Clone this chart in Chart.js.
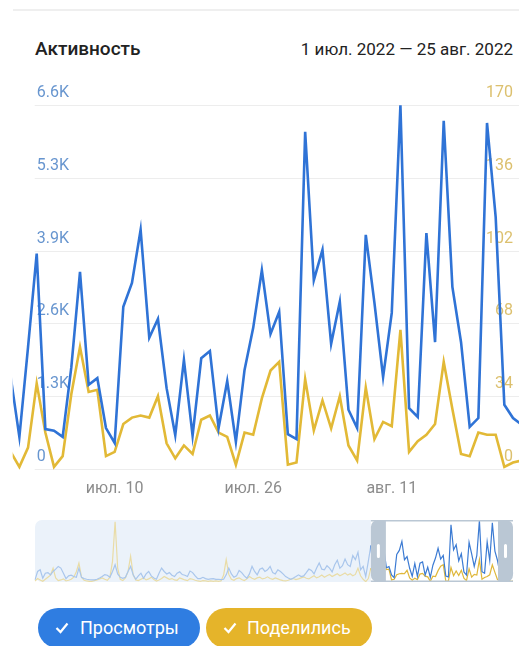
<!DOCTYPE html>
<html>
<head>
<meta charset="utf-8">
<script src="https://cdn.jsdelivr.net/npm/chart.js@4"></script>
<style>
  html, body { margin: 0; padding: 0; background: #fff; width: 519px; height: 646px; overflow: hidden; font-family: Roboto, sans-serif; }
  .sep { position: absolute; left: 13px; top: 9px; width: 506px; height: 2px; background: #efefef; }
  .title { position: absolute; left: 35px; top: 39px; font-size: 19px; line-height: 20px; font-weight: 500; color: #222; }
  .range { position: absolute; right: 6px; top: 39px; font-size: 17px; line-height: 20px; color: #222; }
  #main { position: absolute; left: 0; top: 0; }
  #nav { position: absolute; left: 0; top: 505px; }
  .pill { position: absolute; top: 608px; height: 40px; border-radius: 20px; color: #fff; font-size: 18px; line-height: 40px; box-sizing: border-box; white-space: nowrap; }
  .pill svg { position: absolute; top: 14px; }
  .pill span { position: absolute; top: 0; }
</style>
</head>
<body>
<div class="sep"></div>
<div class="title">Активность</div>
<div class="range">1 июл. 2022 — 25 авг. 2022</div>
<canvas id="main" width="519" height="520"></canvas>
<canvas id="nav" width="519" height="95"></canvas>
<div class="pill" style="left:38px;width:162px;background:#2f7de1">
  <svg width="14" height="12" style="left:17px"><polyline points="1.5,6 5.5,10 12.5,1.5" fill="none" stroke="#fff" stroke-width="2.2"/></svg>
  <span style="left:42px">Просмотры</span>
</div>
<div class="pill" style="left:206px;width:166px;background:#e5b42a">
  <svg width="14" height="12" style="left:17px"><polyline points="1.5,6 5.5,10 12.5,1.5" fill="none" stroke="#fff" stroke-width="2.2"/></svg>
  <span style="left:41px">Поделились</span>
</div>
<script>
// day labels of the main window (a few days of margin on each side)
const days = [];
for (let d = 28; d <= 30; d++) days.push('июн. ' + d);
for (let d = 1; d <= 31; d++) days.push('июл. ' + d);
for (let d = 1; d <= 26; d++) days.push('авг. ' + d);
const rangeStart = 'июл. 1';
const rangeEnd = 'авг. 25';
const xTicks = ['июл. 10', 'июл. 26', 'авг. 11'];
const viewTicks = ['0', '1.3K', '2.6K', '3.9K', '5.3K', '6.6K'];
const shareTicks = ['0', '34', '68', '102', '136', '170'];

// Просмотры, per day (июн. 28 .. авг. 26)
const views = [
  1660, 580, 2200, 3890, 720, 690, 580, 1840, 3560, 1520,
  1640, 740, 470, 2930, 3360, 4320, 2370, 2710, 1460, 610,
  1970, 600, 2000, 2130, 740, 1590, 490, 1790, 2550, 3590,
  2440, 2840, 630, 540, 6090, 3410, 3960, 2260, 3020, 1070,
  740, 4230, 3000, 1660, 2820, 6570, 1100, 940, 4260, 2290,
  6290, 3290, 2290, 760, 920, 6250, 4550, 1160, 920, 800
];
// Поделились, per day
const shares = [
  8, 1, 10, 40, 17, 1, 6, 35, 57, 36,
  37, 6, 8, 21, 24, 25, 24, 34, 12, 5,
  11, 7, 23, 25, 17, 15, 2, 17, 16, 33,
  46, 50, 2, 3, 42, 18, 32, 19, 34, 11,
  4, 38, 14, 22, 20, 65, 8, 13, 16, 21,
  50, 28, 7, 6, 17, 16, 16, 1, 3, 4
];

// earlier days, only seen in the overview strip
const earlierViews = [
  220, 1120, 1300, 400, 940, 1000, 760, 1120, 1370, 1660,
  1480, 940, 360, 650, 720, 580, 500, 1480, 500, 360,
  290, 250, 220, 220, 290, 430, 580, 790, 720, 500,
  1120, 1840, 860, 500, 400, 500, 1120, 1660, 760, 290,
  650, 940, 400, 860, 1120, 650, 430, 290, 940, 1480,
  1120, 860, 1000, 720, 580, 940, 1080, 790, 720, 580,
  1160, 1000, 650, 360, 360, 500, 360, 290, 330, 360,
  290, 290, 250, 290, 760, 1480, 860, 500, 650, 1230,
  1000, 650, 400, 860, 1660, 1120, 760, 1370, 1480, 1120,
  1300, 1660, 1000, 860, 1300, 1120, 860, 580, 430, 290,
  430, 580, 760, 580, 650, 1000, 1370, 1230, 860, 1480,
  2020, 1370, 1300, 1730, 1480, 1080, 1840, 2310, 1480, 1730,
  2450, 1840, 1660, 2810, 2380, 3170, 1300
];
const earlierShares = [
  3, 10, 6, 2, 8, 14, 20, 40, 12, 4,
  6, 9, 3, 5, 8, 14, 30, 55, 14, 5,
  3, 2, 2, 4, 6, 9, 12, 8, 5, 14,
  60, 175, 40, 8, 4, 12, 30, 75, 20, 6,
  4, 8, 12, 6, 9, 14, 7, 3, 6, 10,
  16, 12, 8, 10, 6, 5, 12, 9, 6, 4,
  10, 8, 5, 3, 2, 4, 3, 2, 3, 2,
  3, 2, 3, 20, 65, 22, 8, 5, 10, 12,
  7, 4, 9, 16, 11, 8, 12, 14, 9, 11,
  15, 10, 8, 12, 9, 6, 4, 3, 5, 8,
  10, 7, 9, 12, 15, 11, 9, 14, 18, 12,
  15, 20, 14, 18, 22, 16, 20, 24, 18, 22,
  26, 20, 24, 18, 22, 40, 18
];

const BLUE = '#2f73d6';
const YELLOW = '#e2b936';
const font = { family: 'Roboto', size: 16 };

const gridPlugin = {
  id: 'grid',
  beforeDatasetsDraw(chart) {
    const { ctx, scales: { y } } = chart;
    ctx.save();
    ctx.strokeStyle = '#ededed';
    ctx.lineWidth = 1;
    y.ticks.forEach(t => {
      const py = Math.round(y.getPixelForValue(t.value)) + 0.5;
      ctx.beginPath();
      ctx.moveTo(chart.chartArea.left - 2, py);
      ctx.lineTo(chart.width, py);
      ctx.stroke();
    });
    ctx.restore();
  }
};

new Chart(document.getElementById('main'), {
  type: 'line',
  data: {
    labels: days,
    datasets: [
      { label: 'Просмотры', data: views, yAxisID: 'y', borderColor: BLUE, borderWidth: 2.6, pointRadius: 0, tension: 0,
        clip: { left: 24, right: 6, top: 10, bottom: 10 } },
      { label: 'Поделились', data: shares, yAxisID: 'y1', borderColor: YELLOW, borderWidth: 2.6, pointRadius: 0, tension: 0,
        clip: { left: 24, right: 6, top: 10, bottom: 10 } }
    ]
  },
  options: {
    responsive: false,
    animation: false,
    events: [],
    layout: { padding: { left: 36.7, right: 6, top: 105, bottom: 7 } },
    plugins: { legend: { display: false }, tooltip: { enabled: false } },
    scales: {
      x: {
        type: 'category',
        grid: { display: false, drawTicks: false },
        border: { display: false },
        afterDataLimits: s => { s.min = days.indexOf(rangeStart); s.max = days.indexOf(rangeEnd); },
        afterFit: s => { s.height = 44; },
        ticks: {
          autoSkip: false, maxRotation: 0, padding: 10, color: '#8c8c8c', font,
          callback: function (v) { const l = this.getLabelForValue(v); return xTicks.includes(l) ? l : null; }
        }
      },
      y: {
        position: 'left', min: 0, max: 6575,
        grid: { display: false, drawTicks: false },
        border: { display: false },
        afterFit: s => { s.width = 0; },
        ticks: { stepSize: 1315, mirror: true, padding: 0, labelOffset: -12, color: '#6795cf', font,
          callback: (v, i) => viewTicks[i] }
      },
      y1: {
        position: 'right', min: 0, max: 170,
        grid: { display: false, drawTicks: false },
        border: { display: false },
        afterFit: s => { s.width = 0; },
        ticks: { stepSize: 34, mirror: true, padding: 0, labelOffset: -12, color: '#dcc06e', font,
          callback: (v, i) => shareTicks[i] }
      }
    }
  },
  plugins: [gridPlugin]
});

// overview strip
const navViews = earlierViews.concat(views.slice(0, days.indexOf(rangeEnd) + 1));
const navShares = earlierShares.concat(shares.slice(0, days.indexOf(rangeEnd) + 1));
const winStart = earlierViews.length + days.indexOf(rangeStart);

const navPlugin = {
  id: 'nav',
  beforeDatasetsDraw(chart) {
    const { ctx, chartArea: a, scales: { x } } = chart;
    const x0 = x.getPixelForValue(winStart);
    ctx.save();
    ctx.fillStyle = '#ebf2fa';
    ctx.beginPath();
    ctx.roundRect(a.left, a.top, x0 - a.left + 8, a.bottom - a.top, [7, 0, 0, 7]);
    ctx.fill();
    ctx.fillStyle = '#fff';
    ctx.fillRect(x0, a.top, a.right - x0, a.bottom - a.top);
    ctx.restore();
  },
  afterDatasetsDraw(chart) {
    const { ctx, chartArea: a, scales: { x } } = chart;
    const x0 = x.getPixelForValue(winStart);
    const h = a.bottom - a.top, hw = 15, mid = a.top + h / 2;
    ctx.save();
    ctx.fillStyle = '#bac7d4';
    ctx.fillRect(x0, a.top, a.right - x0, 1.5);
    ctx.fillRect(x0, a.bottom - 1.5, a.right - x0, 1.5);
    ctx.beginPath();
    ctx.roundRect(x0, a.top, hw, h, [7, 0, 0, 7]);
    ctx.fill();
    ctx.beginPath();
    ctx.roundRect(a.right - hw, a.top, hw, h, [0, 7, 7, 0]);
    ctx.fill();
    ctx.fillStyle = '#fff';
    ctx.beginPath();
    ctx.roundRect(x0 + hw / 2 - 1.5, mid - 7, 3, 14, 1.5);
    ctx.roundRect(a.right - hw / 2 - 1.5, mid - 7, 3, 14, 1.5);
    ctx.fill();
    ctx.restore();
  }
};

new Chart(document.getElementById('nav'), {
  type: 'line',
  data: {
    labels: navViews.map((_, i) => i),
    datasets: [
      { data: navViews, yAxisID: 'y', borderWidth: 1.2, pointRadius: 0, tension: 0,
        segment: { borderColor: c => c.p0DataIndex >= winStart ? '#3c7bd3' : '#a9c6ec' } },
      { data: navShares, yAxisID: 'y1', borderWidth: 1.2, pointRadius: 0, tension: 0,
        segment: { borderColor: c => c.p0DataIndex >= winStart ? '#dfb73a' : '#e9dca6' } }
    ]
  },
  options: {
    responsive: false,
    animation: false,
    events: [],
    layout: { padding: { left: 35, right: 6, top: 15, bottom: 18 } },
    plugins: { legend: { display: false }, tooltip: { enabled: false } },
    scales: {
      x: { type: 'category', display: false },
      y: { display: false, min: 0, max: 6600 },
      y1: { display: false, min: 0, max: 180 }
    }
  },
  plugins: [navPlugin]
});
</script>
</body>
</html>
